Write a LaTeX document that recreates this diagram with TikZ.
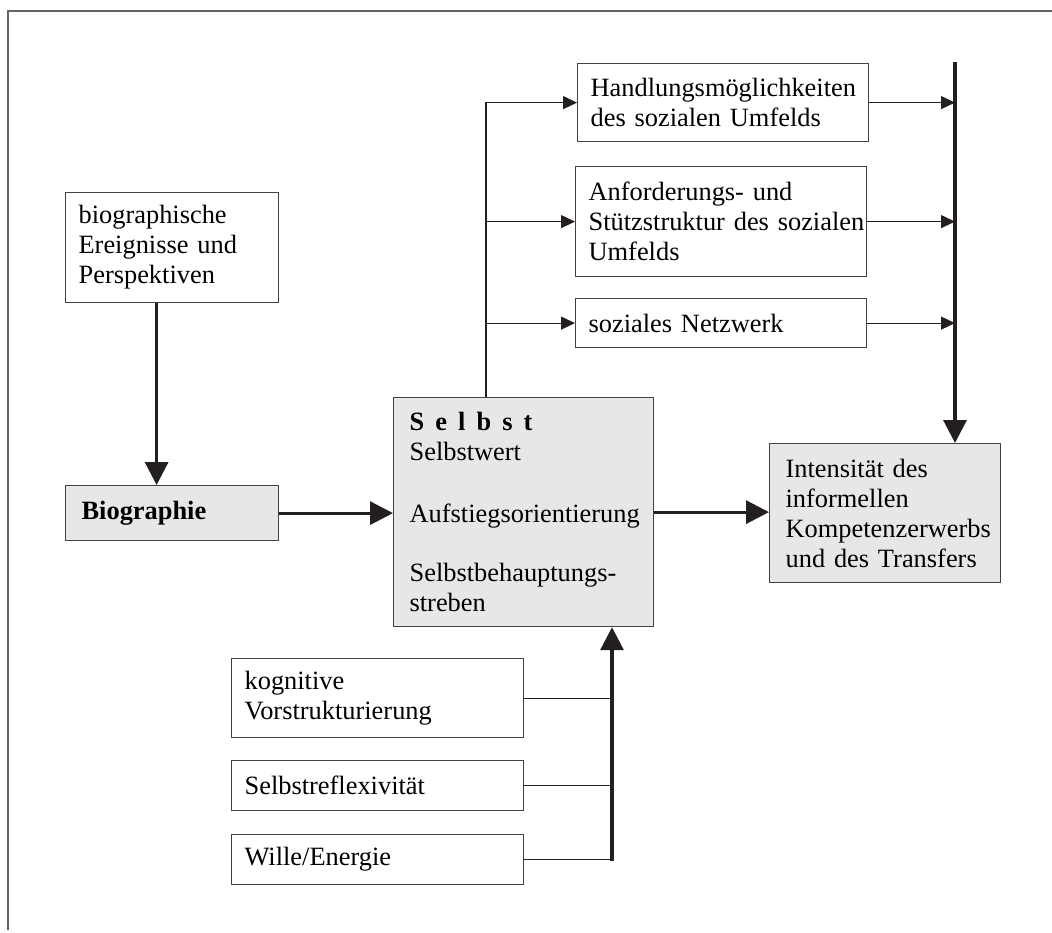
\documentclass[tikz,border=0pt]{standalone}
\usepackage{fontspec}
\setmainfont{Liberation Serif}
\usetikzlibrary{arrows.meta}
\definecolor{boxgray}{RGB}{230,231,233}
\definecolor{ink}{RGB}{35,31,32}
\tikzset{
    box/.style={draw=ink!85, line width=0.6pt, anchor=north west, align=left,
        inner xsep=6.5pt, inner ysep=0pt, font=\fontsize{13.2}{15}\selectfont},
    graybox/.style={box, fill=boxgray, inner xsep=8pt},
    link/.style={ink, line width=0.6pt},
    feed/.style={link, -{Triangle[length=7pt,width=6.5pt]}},
    fat/.style={ink, line width=1.6pt, -{Triangle[length=11.5pt,width=11.5pt]}}
}

\begin{document}
\begin{tikzpicture}[x=0.5pt, y=-0.5pt]
    \useasboundingbox (0,0) rectangle (1052,932);
    \draw[ink!70, line width=1pt] (1052,11) -- (8,11) -- (8,930);
    % left column
    \node[box, text width=93.5pt, minimum height=55pt] (bio) at (65,192)
        {biographische\\Ereignisse und\\Perspektiven};
    \node[graybox, text width=90.5pt, minimum height=27.5pt] (biog) at (65,485)
        {\textbf{Biographie}};
    % middle
    \node[graybox, text width=114pt, minimum height=114.5pt] (selbst) at (393,397)
        {\textbf{S\hspace{.42em}e\hspace{.42em}l\hspace{.42em}b\hspace{.42em}s\hspace{.42em}t}\\
         Selbstwert\\[16pt]Aufstiegsorientierung\\[14.5pt]Selbstbehauptungs-\\streben};
    \node[graybox, text width=99.5pt, minimum height=69.5pt] (intens) at (769,443)
        {Intensität des\\informellen\\Kompetenzerwerbs\\und des Transfers};
    % social environment
    \node[box, text width=132.5pt, minimum height=39pt] (handl) at (577,63)
        {Handlungsmöglichkeiten\\des sozialen Umfelds};
    \node[box, text width=132.5pt, minimum height=55pt] (anford) at (575,166)
        {Anforderungs- und\\\mbox{Stützstruktur des sozialen}\\Umfelds};
    \node[box, text width=132.5pt, minimum height=24.5pt] (netz) at (575,298)
        {soziales Netzwerk};
    % personal factors
    \node[box, text width=133pt, minimum height=39.5pt] (kogn) at (231,658)
        {kognitive\\Vorstrukturierung};
    \node[box, text width=133pt, minimum height=25pt] (refl) at (231,760)
        {Selbstreflexivität};
    \node[box, text width=133pt, minimum height=25pt] (wille) at (231,834)
        {Wille/Energie};

    \coordinate (fork) at (486,0);
    \coordinate (busTop) at (955,62);
    \coordinate (join) at (612,0);

    \draw[fat] ([xshift=-7.75pt]bio.south) -- ([xshift=-7.75pt]biog.north);
    \draw[fat] (biog.east) -- (biog.east -| selbst.west);
    \draw[fat] (selbst.east) -- (selbst.east -| intens.west);
    \draw[fat] (busTop) -- (busTop |- intens.north);

    \draw[feed] (selbst.north -| fork) |- (handl.west);
    \draw[feed] (anford.west -| fork) -- (anford.west);
    \draw[feed] (netz.west -| fork) -- (netz.west);
    \draw[feed] (handl.east) -- (handl.east -| busTop);
    \draw[feed] (anford.east) -- (anford.east -| busTop);
    \draw[feed] (netz.east) -- (netz.east -| busTop);

    \draw[link] (kogn.east) -- (kogn.east -| join);
    \draw[link] (refl.east) -- (refl.east -| join);
    \draw[link] (wille.east) -- (wille.east -| join);
    \draw[fat] ([yshift=-0.8pt]wille.east -| join) -- (join |- selbst.south);
\end{tikzpicture}
\end{document}
